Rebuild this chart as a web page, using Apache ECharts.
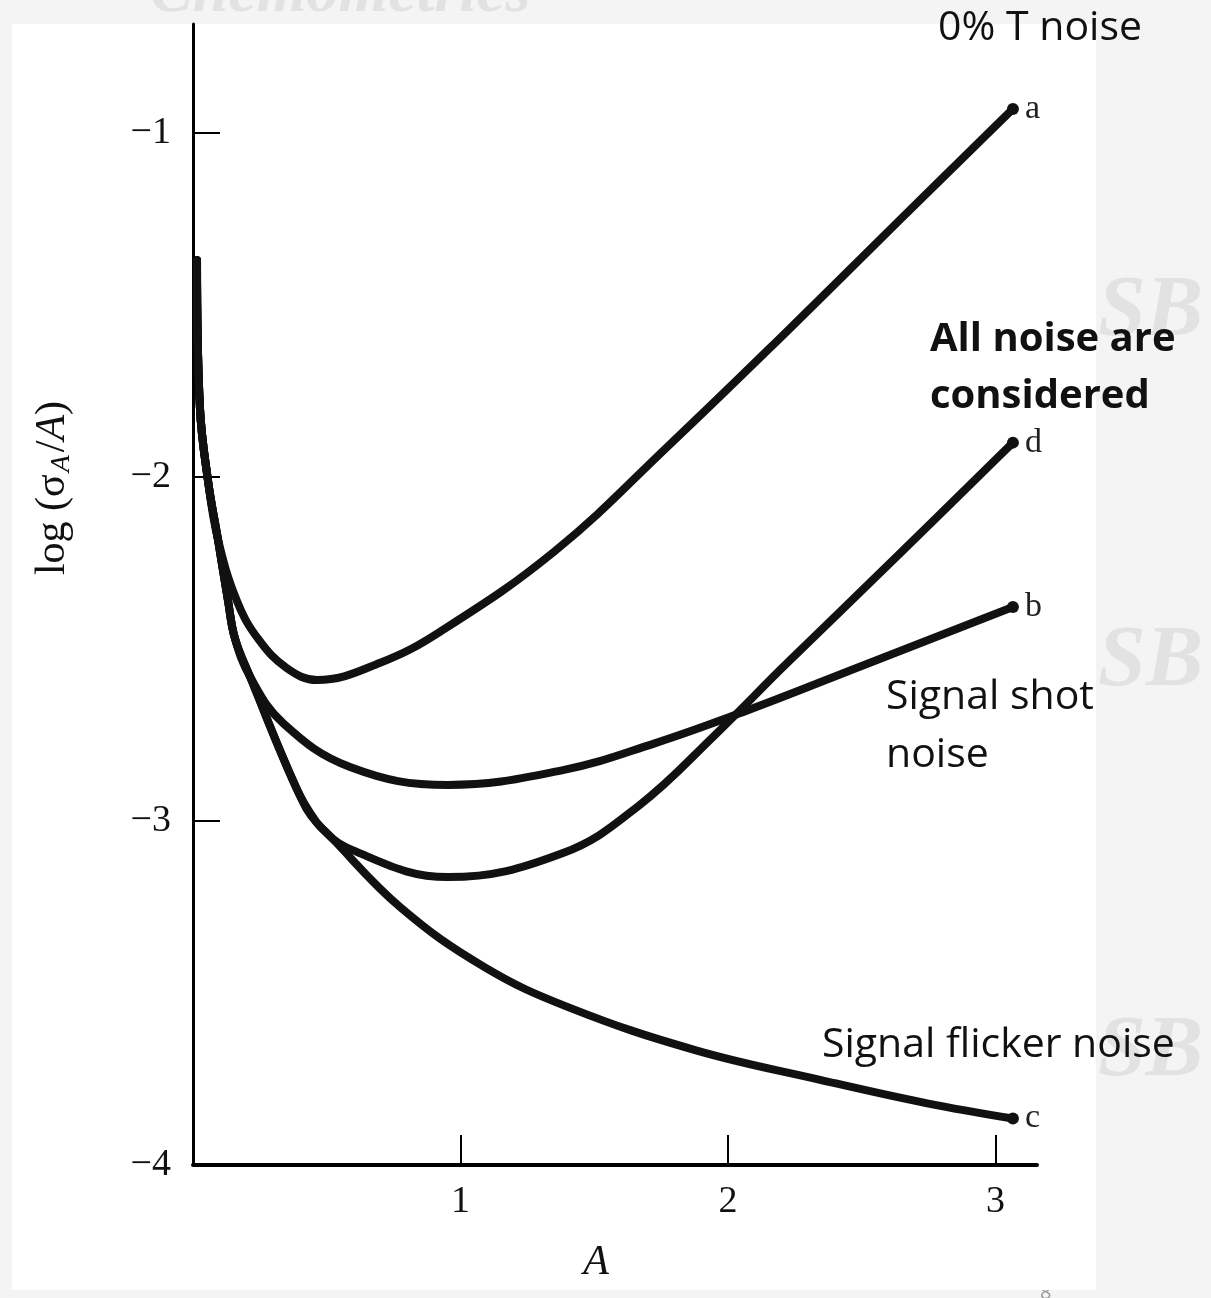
<!DOCTYPE html>
<html>
<head>
<meta charset="utf-8">
<script src="https://cdn.jsdelivr.net/npm/echarts@6/dist/echarts.min.js"></script>
<style>
  html, body { margin: 0; padding: 0; background: #f4f4f4; }
  #main { width: 1211px; height: 1298px; }
</style>
</head>
<body>
<div id="main"></div>
<script>
// absorbance A vs log(sigma_A / A)
const aX = [0.015, 0.026, 0.056, 0.093, 0.164, 0.243, 0.35, 0.464, 0.70, 0.923, 1.353, 1.783, 2.209, 2.639, 3.065];
const aY = [-1.37, -1.80, -2.01, -2.18, -2.36, -2.47, -2.555, -2.59, -2.54, -2.45, -2.215, -1.905, -1.585, -1.255, -0.93];

const bX = [0.015, 0.026, 0.056, 0.093, 0.131, 0.157, 0.213, 0.336, 0.587, 0.953, 1.383, 1.723, 2.067, 2.497, 3.065];
const bY = [-1.37, -1.80, -2.01, -2.18, -2.36, -2.47, -2.58, -2.715, -2.843, -2.895, -2.852, -2.775, -2.68, -2.55, -2.378];

const cX = [0.015, 0.026, 0.056, 0.093, 0.131, 0.157, 0.213, 0.39, 0.464, 0.501, 0.774, 1.088, 1.402, 1.877, 2.348, 2.74, 3.065];
const cY = [-1.37, -1.80, -2.01, -2.18, -2.36, -2.47, -2.58, -2.91, -3.006, -3.035, -3.25, -3.424, -3.541, -3.666, -3.753, -3.82, -3.865];

const dX = [0.015, 0.026, 0.056, 0.093, 0.131, 0.157, 0.213, 0.39, 0.464, 0.594, 0.953, 1.383, 1.667, 1.951, 2.209, 2.639, 3.065];
const dY = [-1.37, -1.80, -2.01, -2.18, -2.36, -2.47, -2.58, -2.91, -3.006, -3.084, -3.163, -3.093, -2.955, -2.75, -2.55, -2.225, -1.90];

const curveNames = ['a', 'b', 'c', 'd'];
const yTicks = [-4, -3, -2, -1];
const xTicks = [1, 2, 3];

const serif = '"Liberation Serif", "DejaVu Serif", serif';
const sans = '"Open Sans", "Noto Sans", sans-serif';

function makeData(xs, ys) {
  return xs.map(function (x, i) {
    if (i === xs.length - 1) {
      return { value: [x, ys[i]], symbol: 'circle', symbolSize: 12 };
    }
    return [x, ys[i]];
  });
}

function curve(name, xs, ys) {
  return {
    name: name,
    type: 'line',
    smooth: 0.4,
    symbol: 'none',
    showSymbol: true,
    data: makeData(xs, ys),
    lineStyle: { color: '#111', width: 8, cap: 'round', join: 'round' },
    itemStyle: { color: '#111' },
    endLabel: {
      show: true,
      formatter: name,
      color: '#222',
      fontFamily: serif,
      fontSize: 34,
      distance: 12
    },
    silent: true,
    animation: false
  };
}

const chart = echarts.init(document.getElementById('main'));

const option = {
  backgroundColor: '#f4f4f4',
  animation: false,
  grid: { left: 193, right: 174, top: 24, bottom: 133 },
  xAxis: {
    type: 'value',
    min: 0,
    max: 3.155,
    interval: 1,
    splitLine: { show: false },
    axisLine: { show: true, lineStyle: { color: '#000', width: 4 } },
    axisTick: { show: true, inside: true, length: 30, customValues: xTicks, lineStyle: { color: '#000', width: 2 } },
    axisLabel: {
      color: '#111',
      fontFamily: serif,
      fontSize: 38,
      margin: 18,
      customValues: xTicks
    }
  },
  yAxis: {
    type: 'value',
    min: -4,
    max: -0.683,
    interval: 1,
    splitLine: { show: false },
    axisLine: { show: true, lineStyle: { color: '#000', width: 3 } },
    axisTick: { show: true, inside: true, length: 27, customValues: yTicks, lineStyle: { color: '#000', width: 2 } },
    axisLabel: {
      color: '#111',
      fontFamily: serif,
      fontSize: 38,
      margin: 22,
      customValues: yTicks,
      formatter: function (v) { return '\u2212' + Math.abs(v); }
    }
  },
  graphic: [
    // page backdrop of the slide
    { type: 'rect', z: -10, shape: { x: 12, y: 24, width: 1084, height: 1266 }, style: { fill: '#ffffff' } },
    { type: 'text', z: -20, left: 150, top: -38, style: { text: 'Chemometrics', fill: '#e2e2e2', font: 'italic bold 64px ' + serif } },
    { type: 'text', z: -20, left: 1098, top: 270, style: { text: 'SB', fill: '#e2e2e2', font: 'italic bold 86px ' + serif } },
    { type: 'text', z: -20, left: 1098, top: 620, style: { text: 'SB', fill: '#e2e2e2', font: 'italic bold 86px ' + serif } },
    { type: 'text', z: -20, left: 1098, top: 1010, style: { text: 'SB', fill: '#e2e2e2', font: 'italic bold 86px ' + serif } },
    { type: 'text', z: -20, left: 1040, top: 1283, style: { text: '8', fill: '#9a9a9a', font: '20px ' + sans } },
    // axis names
    {
      type: 'text', x: 53, y: 488, rotation: Math.PI / 2,
      style: {
        text: 'log (\u03c3{sub|A}/{it|A})',
        font: '42px ' + serif,
        fill: '#111',
        align: 'center',
        verticalAlign: 'middle',
        rich: {
          sub: { fontSize: 28, fontStyle: 'italic', fontFamily: serif, verticalAlign: 'bottom', padding: [17, 3, 0, 2] },
          it: { fontSize: 42, fontStyle: 'italic', fontFamily: serif }
        }
      }
    },
    { type: 'text', x: 596, y: 1263, style: { text: 'A', font: 'italic 42px ' + serif, fill: '#111', align: 'center', verticalAlign: 'middle' } },
    // annotations on the slide
    { type: 'text', x: 1040, y: 28, style: { text: '0% T noise', font: '41px ' + sans, fill: '#111', align: 'center', verticalAlign: 'middle' } },
    { type: 'text', x: 930, y: 368, style: { text: 'All noise are\nconsidered', font: 'bold 40px ' + sans, lineHeight: 57, fill: '#111', align: 'left', verticalAlign: 'middle' } },
    { type: 'text', x: 886, y: 726, style: { text: 'Signal shot\nnoise', font: '41px ' + sans, lineHeight: 58, fill: '#111', align: 'left', verticalAlign: 'middle' } },
    { type: 'text', x: 822, y: 1045, style: { text: 'Signal flicker noise', font: '41px ' + sans, fill: '#111', align: 'left', verticalAlign: 'middle' } }
  ],
  series: [
    curve(curveNames[0], aX, aY),
    curve(curveNames[1], bX, bY),
    curve(curveNames[2], cX, cY),
    curve(curveNames[3], dX, dY)
  ]
};

chart.setOption(option);
</script>
</body>
</html>
